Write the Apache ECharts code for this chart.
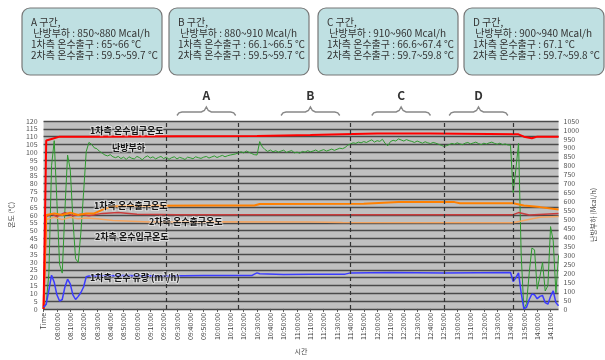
<!DOCTYPE html>
<html>
<head>
<meta charset="utf-8">
<script src="https://cdn.jsdelivr.net/npm/echarts@6/dist/echarts.min.js"></script>
<style>
  html, body { margin: 0; padding: 0; background: #fff; }
  #chart { width: 605px; height: 360px; }
</style>
</head>
<body>
<div id="chart"></div>
<script>
// x axis: first row is the header "Time", then one sample every 2 minutes
const pointCount = 194;
const startMinute = 7 * 60 + 50;
const stepMinute = 2;
const categories = ['Time'];
for (let i = 1; i < pointCount; i++) {
  const m = startMinute + i * stepMinute;
  const hh = String(Math.floor(m / 60)).padStart(2, '0');
  const mm = String(m % 60).padStart(2, '0');
  categories.push(hh + ':' + mm + ':00');
}

// 난방부하 (Mcal/h), right axis
const heatLoad = [
  0, 30, 200, 800, 940, 600, 250, 200, 550, 860,
  780, 500, 280, 260, 430, 650, 880, 930, 920, 900,
  895, 880, 870, 860, 855, 862, 850, 845, 852, 840,
  848, 835, 850, 842, 838, 852, 845, 833, 848, 855,
  843, 850, 838, 846, 852, 840, 848, 836, 845, 850,
  838, 847, 842, 835, 848, 844, 839, 850, 845, 841,
  848, 852, 843, 849, 855, 846, 852, 858, 850, 856,
  860, 863, 866, 872, 878, 872, 882, 875, 868, 862,
  860, 935, 905, 890, 880, 888, 878, 884, 876, 882,
  887, 874, 880, 885, 872, 876, 870, 880, 876, 884,
  878, 882, 888, 879, 885, 890, 882, 887, 893, 886,
  892, 898, 895, 902, 915, 922, 928, 925, 932, 928,
  935, 930, 938, 945, 932, 940, 936, 948, 925, 912,
  935, 942, 938, 950, 944, 938, 946, 940, 936, 930,
  938, 932, 926, 934, 928, 924, 930, 926, 920, 915,
  908, 912, 918, 925, 920, 928, 922, 918, 926, 930,
  922, 927, 932, 924, 918, 926, 921, 928, 932, 925,
  920, 926, 918, 922, 916, 915, 650, 780, 925, 300,
  0, 30, 200, 340, 330, 110, 180, 260, 100, 130,
  460, 380, 90, 300
];

// temperatures (℃) and flow (m3/h) as [sample index, value]
const primaryInTemp = [
  [0, 0], [1, 107.5], [3, 108.5], [6, 110], [20, 110], [50, 110.2], [80, 110.5],
  [100, 111], [112, 111.5], [125, 112], [145, 112], [178, 111.5], [180, 110],
  [183, 109], [185, 110], [193, 110]
];
const primaryOutTemp = [
  [0, 0], [1, 60], [4, 61], [7, 60], [10, 61.5], [13, 60], [16, 61], [19, 61],
  [23, 64], [26, 65.5], [40, 65.8], [60, 66], [79, 66], [81, 67], [120, 67.2],
  [133, 68.2], [154, 68.2], [156, 67.5], [176, 67.5], [180, 66], [186, 65], [193, 63.5]
];
const secondaryOutTemp = [
  [0, 0], [1, 59], [3, 60.5], [5, 59], [8, 61.5], [11, 59.5], [14, 60.5], [17, 59.5],
  [22, 61], [28, 61.5], [35, 60.5], [50, 60.2], [100, 60.2], [176, 60.2],
  [178, 61.5], [182, 60], [193, 61]
];
const secondaryInTemp = [
  [0, 0], [1, 57], [4, 58.5], [7, 57], [10, 58.5], [13, 57.5], [16, 58], [20, 57.5],
  [26, 56.5], [40, 55.5], [60, 55.6], [100, 55.5], [112, 55.2], [176, 55],
  [180, 56.5], [186, 58.5], [193, 59]
];
const primaryFlow = [
  [0, 1], [1, 3], [2, 12], [3, 21.5], [4, 17], [5, 9], [6, 5], [7, 6], [8, 14],
  [9, 19], [10, 16], [11, 9], [12, 6], [13, 8], [14, 10.5], [15, 14], [16, 20.5],
  [17, 21], [30, 21.3], [45, 21], [60, 21.4], [78, 21.3], [79, 22.2], [80, 23],
  [81, 22.4], [90, 22], [100, 22.2], [113, 22.2], [115, 23], [130, 23.2], [150, 23],
  [175, 23.2], [176, 17.5], [177, 20], [178, 23], [179, 10], [180, 0], [181, 1],
  [182, 6], [183, 9.5], [184, 9], [185, 6.5], [186, 8], [187, 8.5], [188, 4],
  [189, 3], [190, 8], [191, 11.5], [192, 4], [193, 2]
];

// dashed markers and the A-D zones
const markerIndex = [46, 73, 115, 150, 176];
const zoneNames = ['A', 'B', 'C', 'D'];
const zoneStart = [50, 89, 123, 152];
const zoneEnd = [72, 111, 145, 174];
const zoneLoad = ['850~880', '880~910', '910~960', '900~940'];
const zonePrimaryOut = ['65~66', '66.1~66.5', '66.6~67.4', '67.1'];
const zoneSecondaryOut = ['59.5~59.7', '59.5~59.7', '59.7~59.8', '59.7~59.8'];

const font = '"Noto Sans CJK KR", sans-serif';
const chart = echarts.init(document.getElementById('chart'));

const line = (name, data, color, width, yAxisIndex, extra) => Object.assign({
  name, type: 'line', data, yAxisIndex, symbol: 'none',
  lineStyle: { color, width }, itemStyle: { color }, z: 3
}, extra || {});

chart.setOption({
  animation: false,
  backgroundColor: '#ffffff',
  textStyle: { fontFamily: font },
  grid: { left: 35, right: 32, top: 121, bottom: 39, show: true, backgroundColor: '#c0c0c0', borderWidth: 0 },
  xAxis: {
    type: 'category',
    data: categories,
    boundaryGap: false,
    name: '시간',
    nameLocation: 'middle',
    nameGap: 32,
    nameTextStyle: { fontSize: 7, color: '#444', fontFamily: font },
    axisLine: { show: false },
    axisTick: { show: true, interval: 4, length: 3, lineStyle: { color: '#555' } },
    axisLabel: { interval: 4, rotate: 90, fontSize: 7, color: '#444', margin: 4, fontFamily: font, hideOverlap: false },
    splitLine: { show: false }
  },
  yAxis: [
    {
      type: 'value', min: 0, max: 120, interval: 5,
      name: '온도 (℃)', nameLocation: 'middle', nameGap: 24, nameRotate: 90,
      nameTextStyle: { fontSize: 7, color: '#444', fontFamily: font },
      axisLine: { show: false }, axisTick: { show: false },
      axisLabel: { fontSize: 7, color: '#555', margin: 6, fontFamily: font },
      splitLine: { show: true, lineStyle: { color: '#4a4a4a', width: 1.3 } }
    },
    {
      type: 'value', min: 0, max: 1050, interval: 50, position: 'right',
      name: '난방부하 (Mcal/h)', nameLocation: 'middle', nameGap: 24, nameRotate: 90,
      nameTextStyle: { fontSize: 7, color: '#444', fontFamily: font },
      axisLine: { show: false }, axisTick: { show: false },
      axisLabel: { fontSize: 7, color: '#555', margin: 5, fontFamily: font, formatter: v => String(v) },
      splitLine: { show: false }
    }
  ],
  series: [
    line('난방부하', heatLoad, '#2f9a2f', 1, 1, {
      markLine: {
        silent: true, symbol: ['none', 'none'], label: { show: false },
        lineStyle: { color: '#333', type: [4, 3], width: 1.2 },
        data: markerIndex.map(i => ({ xAxis: i }))
      }
    }),
    line('2차측 온수입구온도', secondaryInTemp, '#f4a460', 1.5, 0),
    line('2차측 온수출구온도', secondaryOutTemp, '#c83c3c', 1.5, 0),
    line('1차측 온수출구온도', primaryOutTemp, '#ff8000', 2, 0),
    line('1차측 온수입구온도', primaryInTemp, '#ff0000', 2, 0),
    line('1차측 온수 유량', primaryFlow, '#3b3bff', 1.5, 0)
  ]
});

// info boxes, series captions and zone braces
const graphics = [];
const boxX = [22, 169, 318, 464];
zoneNames.forEach((z, i) => {
  graphics.push({
    type: 'rect', id: 'box' + z, z: 10,
    shape: { x: boxX[i], y: 8, width: 140, height: 67, r: 8 },
    style: { fill: '#bfe0e2', stroke: '#777', lineWidth: 1.2 }
  });
  graphics.push({
    type: 'text', id: 'boxText' + z, z: 11, x: boxX[i] + 9, y: 17,
    style: {
      text: z + ' 구간,\n 난방부하 : ' + zoneLoad[i] + ' Mcal/h\n1차측 온수출구 : ' +
        zonePrimaryOut[i] + ' ℃\n2차측 온수출구 : ' + zoneSecondaryOut[i] + ' ℃',
      font: '10px ' + font, fill: '#333', lineHeight: 11
    }
  });

  const x0 = chart.convertToPixel({ xAxisIndex: 0 }, zoneStart[i]);
  const x1 = chart.convertToPixel({ xAxisIndex: 0 }, zoneEnd[i]);
  const mid = (x0 + x1) / 2;
  graphics.push({
    type: 'polyline', id: 'brace' + z, z: 10,
    shape: {
      points: [[x0, 115.5], [x0 + 2, 112.8], [x0 + 5, 112], [mid - 5, 112], [mid - 2, 110.5],
        [mid, 107], [mid + 2, 110.5], [mid + 5, 112], [x1 - 5, 112], [x1 - 2, 112.8], [x1, 115.5]]
    },
    style: { stroke: '#888', lineWidth: 1.4, fill: null }
  });
  graphics.push({
    type: 'text', id: 'zone' + z, z: 10, x: mid, y: 95,
    style: { text: z, font: 'bold 12px ' + font, fill: '#333', align: 'center', verticalAlign: 'middle' }
  });
});

const captions = [
  ['1차측 온수입구온도', 90, 131],
  ['난방부하', 112, 148],
  ['1차측 온수출구온도', 94, 206],
  ['2차측 온수출구온도', 149, 222],
  ['2차측 온수입구온도', 95, 237],
  ['1차측 온수 유량 (m³/h)', 90, 278]
];
captions.forEach((c, i) => {
  graphics.push({
    type: 'text', id: 'cap' + i, z: 12, x: c[1], y: c[2],
    style: {
      text: c[0], font: 'bold 9px ' + font, fill: '#151515', verticalAlign: 'middle',
      stroke: 'rgba(255,255,255,0.45)', lineWidth: 2
    }
  });
});

chart.setOption({ graphic: graphics });
</script>
</body>
</html>
